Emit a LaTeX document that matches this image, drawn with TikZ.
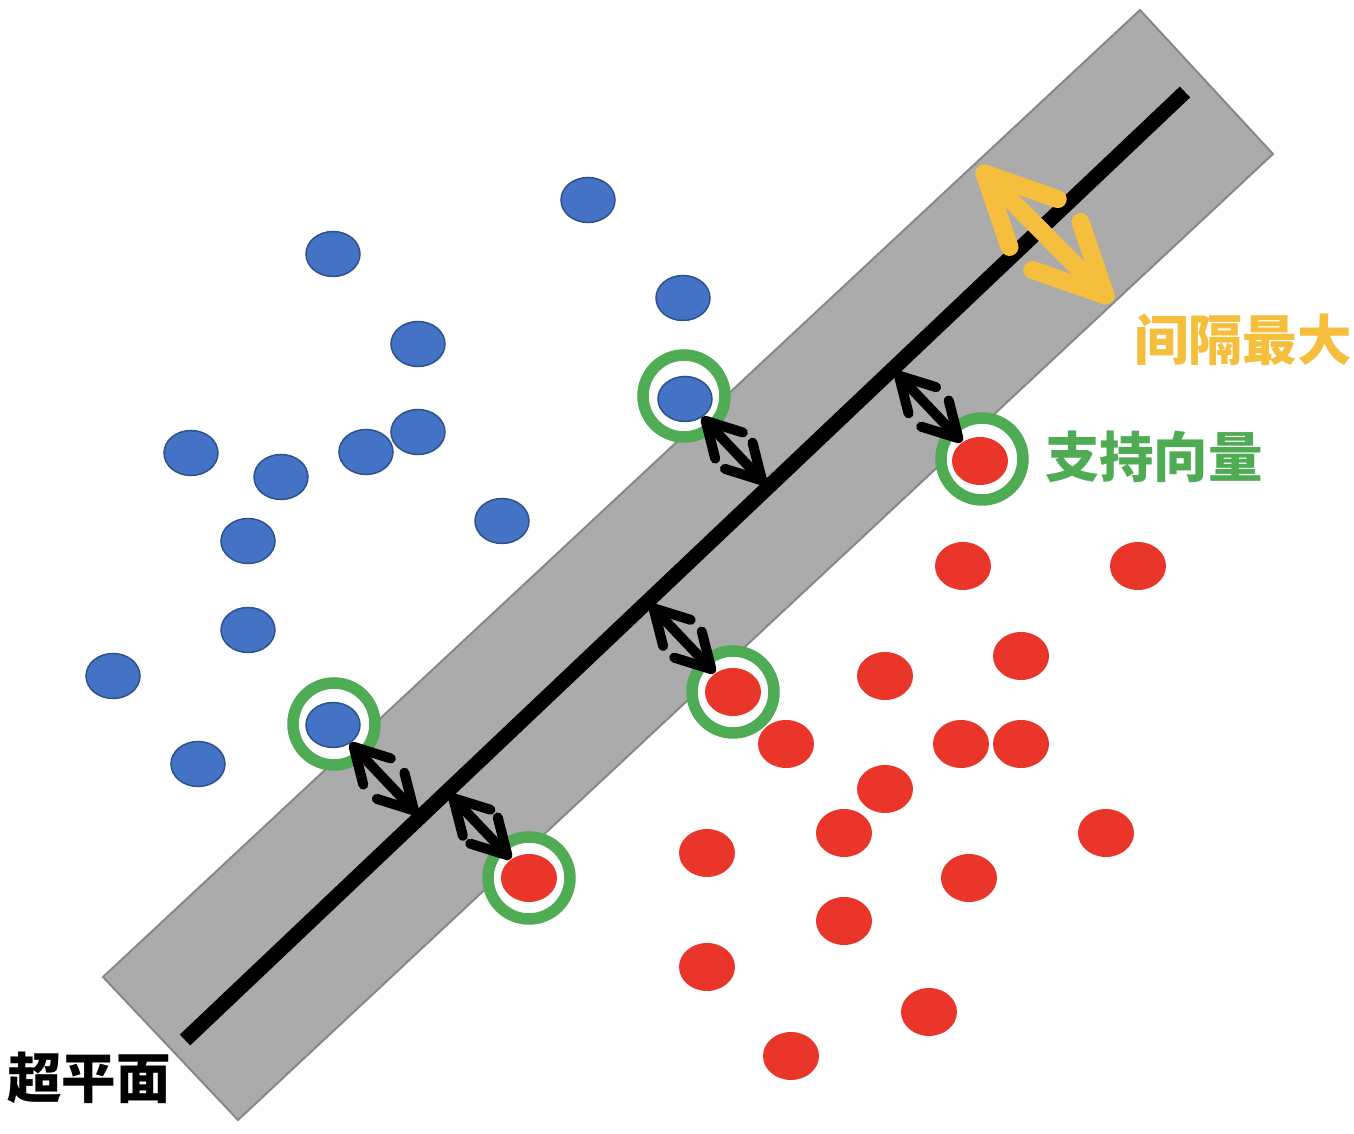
\documentclass[tikz,border=0pt]{standalone}
\usepackage{fontspec}
\newfontfamily\cjk{Noto Sans CJK SC}
\usepackage{xcolor}
\definecolor{CBlue}{HTML}{4472C4}
\definecolor{CBlueDark}{HTML}{2F528F}
\definecolor{CRed}{HTML}{E9352A}
\definecolor{CGreen}{HTML}{4FAC55}
\definecolor{COrange}{HTML}{F5BE3C}
\definecolor{CBand}{HTML}{ABABAB}
\definecolor{CBandEdge}{HTML}{888888}
\usepackage{tikz}
\usetikzlibrary{arrows.meta,shapes.geometric,calc}
\tikzstyle{blueDot}=[ellipse, fill=CBlue, draw=CBlueDark, line width=0.15mm,
  minimum width=5.4mm, minimum height=4.5mm, inner sep=0pt]
\tikzstyle{redDot}=[ellipse, fill=CRed, minimum width=5.6mm, minimum height=4.8mm, inner sep=0pt]
\tikzstyle{svRing}=[circle, draw=CGreen, fill=white, line width=1.15mm, minimum size=8.2mm, inner sep=0pt]
\tikzstyle{marginArr}=[{Straight Barb[round,length=3.4mm,width=3.8mm]}-{Straight Barb[round,length=3.4mm,width=3.8mm]},
  line width=1mm, line cap=round, shorten >=0.4mm]
\tikzstyle{gapArr}=[{Straight Barb[round,length=7mm,width=6.8mm]}-{Straight Barb[round,length=7mm,width=6.8mm]},
  draw=COrange, line width=1.8mm, line cap=round]
\tikzstyle{labelText}=[font=\cjk\bfseries\fontsize{15.5}{18}\selectfont, inner sep=0pt]

\begin{document}
\begin{tikzpicture}[x=0.1mm, y=-0.1mm]
\useasboundingbox (0,0) rectangle (1354,1134);
% margin band and hyperplane
\draw[fill=CBand, draw=CBandEdge, line width=0.2mm] (103,977) -- (1140,10) -- (1273,154) -- (238,1120) -- cycle;
\coordinate (h0) at (185,1040);
\coordinate (h1) at (1185,92);
\draw[line width=1.5mm] (h0) -- (h1);
% support vectors
\node[svRing] (r1) at (684,396) {};
\node[svRing] (r2) at (982,459) {};
\node[svRing] (r3) at (733,692) {};
\node[svRing] (r4) at (334,724) {};
\node[svRing] (r5) at (529,878) {};
\node[blueDot] (bs1) at (685,399) {};
\node[redDot] (rs1) at (980,461) {};
\node[redDot] (rs2) at (733,692) {};
\node[blueDot] (bs2) at (333,725) {};
\node[redDot] (rs3) at (529,878) {};
% other samples
\foreach \px/\py [count=\i] in {588/200, 333/254, 683/298, 418/344, 418/432, 191/453, 366/452,
  281/477, 502/521, 248/541, 248/630, 113/676, 198/764}
  \node[blueDot] (b\i) at (\px,\py) {};
\foreach \px/\py [count=\i] in {963/566, 1138/566, 1021/656, 885/676, 786/744, 961/744, 1021/744,
  885/789, 844/833, 1106/833, 707/853, 969/878, 844/921, 707/967, 929/1012, 791/1056}
  \node[redDot] (r\i) at (\px,\py) {};
% distances to the hyperplane
\coordinate (m1) at ($(h0)!(bs1)!(h1)$);
\coordinate (m2) at ($(h0)!(rs1)!(h1)$);
\coordinate (m3) at ($(h0)!(rs2)!(h1)$);
\coordinate (m4) at ($(h0)!(bs2)!(h1)$);
\coordinate (m5) at ($(h0)!(rs3)!(h1)$);
\draw[marginArr] (bs1) -- (m1);
\draw[marginArr] (rs1) -- (m2);
\draw[marginArr] (rs2) -- (m3);
\draw[marginArr] (bs2) -- (m4);
\draw[marginArr] (rs3) -- (m5);
% widest gap
\coordinate (g0) at (978,167);
\coordinate (g1) at (1112,302);
\draw[gapArr] (g0) -- (g1);
% labels
\node[labelText, text=COrange] (gapLabel) at (1243,340) {间隔最大};
\node[labelText, text=CGreen] (svLabel) at (1154,457) {支持向量};
\node[labelText] (planeLabel) at (89,1078) {超平面};
\end{tikzpicture}
\end{document}
